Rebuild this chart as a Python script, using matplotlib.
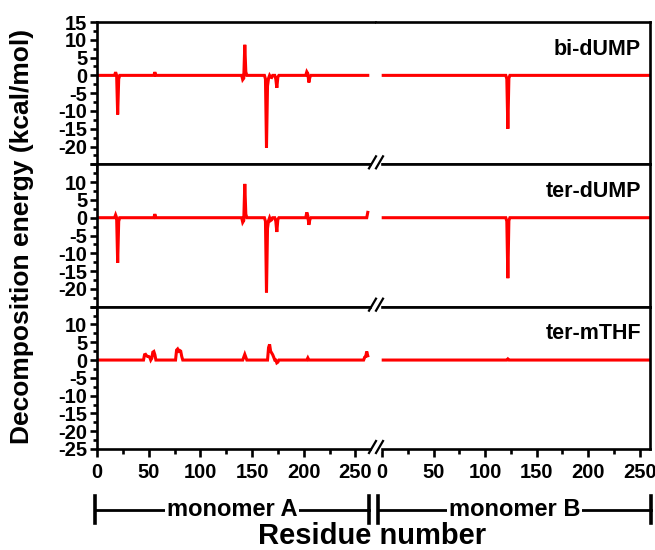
import numpy as np
import matplotlib
matplotlib.use("Agg")
import matplotlib.pyplot as plt
from matplotlib.lines import Line2D
from matplotlib.ticker import MultipleLocator

plt.rcParams['font.family'] = ['Liberation Sans', 'DejaVu Sans']
plt.rcParams['font.weight'] = 'bold'

# residue counts per monomer
n_res_A = 262
n_res_B = 264

# non-zero decomposition energies (residue, kcal/mol), everything else ~0
bi_dump_A_res = [18, 20, 21, 56, 141, 142, 143, 144, 163, 164, 165, 166, 168, 169, 173, 174, 175, 203, 204, 205, 206]
bi_dump_A_val = [0.9, -11.0, -1.0, 0.9, -1.2, -0.8, 8.6, 1.0, -1.0, -20.3, -3.0, -0.8, -0.5, -0.6, -1.0, -3.5, -0.5, 1.0, 0.5, -2.0, -0.5]
bi_dump_B_res = [121, 122, 123]
bi_dump_B_val = [-1.0, -15.0, -0.8]

ter_dump_A_res = [18, 20, 21, 56, 141, 142, 143, 144, 163, 164, 165, 166, 168, 169, 173, 174, 175, 203, 204, 205, 206, 262]
ter_dump_A_val = [0.8, -12.7, -1.0, 1.0, -1.3, -0.8, 9.5, 1.0, -1.0, -21.0, -3.0, -0.8, -0.8, -0.6, -1.0, -4.0, -0.5, 1.5, 0.5, -2.0, -0.5, 1.5]
ter_dump_B_res = [121, 122, 123]
ter_dump_B_val = [-1.0, -17.0, -0.8]

ter_mthf_A_res = [46, 47, 48, 49, 50, 51, 53, 54, 55, 56, 77, 78, 79, 80, 81, 82,
                  142, 143, 144, 166, 167, 168, 169, 170, 171, 174, 175, 204, 259, 260, 261, 262]
ter_mthf_A_val = [1.5, 1.6, 1.2, 1.0, 1.0, 0.8, 0.5, 2.2, 2.4, 1.5, 2.8, 3.1, 2.5, 2.7, 2.5, 1.0,
                  0.8, 1.6, 0.8, 3.5, 4.4, 2.5, 2.0, 1.5, 0.8, -0.8, -0.6, 0.6, 0.8, 1.0, 2.4, 1.2]
ter_mthf_B_res = [122]
ter_mthf_B_val = [0.3]

labels = ['bi-dUMP', 'ter-dUMP', 'ter-mTHF']
series = [
    (bi_dump_A_res, bi_dump_A_val, bi_dump_B_res, bi_dump_B_val),
    (ter_dump_A_res, ter_dump_A_val, ter_dump_B_res, ter_dump_B_val),
    (ter_mthf_A_res, ter_mthf_A_val, ter_mthf_B_res, ter_mthf_B_val),
]
# which y tick labels are shown in each panel
shown_yticks = [
    [15, 10, 5, 0, -5, -10, -15, -20],
    [10, 5, 0, -5, -10, -15, -20],
    [10, 5, 0, -5, -10, -15, -20, -25],
]


def full_series(n, res, val):
    x = np.arange(1, n + 1)
    y = np.zeros(n)
    for r, v in zip(res, val):
        y[r - 1] = v
    return x, y


W, H = 655, 550
fig = plt.figure(figsize=(W / 100, H / 100), dpi=100)

xl0, xl1 = 97, 375   # left block pixels
xr0, xr1 = 376, 650  # right block pixels
ytop, ybot = 22, 449
ph = (ybot - ytop) / 3

lw_spine = 1.9
red = '#ff0000'

for i in range(3):
    top = ytop + i * ph
    y0 = 1 - (top + ph) / H
    axL = fig.add_axes([xl0 / W, y0, (xl1 - xl0) / W, ph / H])
    axR = fig.add_axes([xr0 / W, y0, (xr1 - xr0) / W, ph / H])
    resA, valA, resB, valB = series[i]
    xa, ya = full_series(n_res_A, resA, valA)
    xb, yb = full_series(n_res_B, resB, valB)
    axL.plot(xa, ya, color=red, lw=2.2, solid_joinstyle='miter')
    axR.plot(xb, yb, color=red, lw=2.2, solid_joinstyle='miter')
    axL.set_xlim(0, 269)
    axR.set_xlim(-6, 260)
    for ax in (axL, axR):
        ax.set_ylim(-25, 15)
        ax.xaxis.set_major_locator(MultipleLocator(50))
        ax.xaxis.set_minor_locator(MultipleLocator(25))
        for s in ax.spines.values():
            s.set_linewidth(lw_spine)
        ax.tick_params(axis='x', which='major', direction='out', length=6, width=1.9,
                       labelsize=14.5, pad=4, top=False)
        ax.tick_params(axis='x', which='minor', direction='out', length=3.5, width=1.9, top=False)
        if i < 2:
            ax.tick_params(axis='x', which='both', labelbottom=False)
    axL.spines['right'].set_visible(False)
    axR.spines['left'].set_visible(False)
    axR.set_yticks([])
    axL.set_yticks(np.arange(-25, 16, 5))
    axL.yaxis.set_minor_locator(MultipleLocator(2.5))
    axL.set_yticklabels([str(v) if v in shown_yticks[i] else '' for v in range(-25, 16, 5)])
    axL.tick_params(axis='y', which='major', direction='out', length=5, width=1.9, labelsize=14.5, pad=2)
    axL.tick_params(axis='y', which='minor', direction='out', length=3, width=1.9)
    axR.text(0.967, 0.81, labels[i], transform=axR.transAxes, ha='right', va='center',
             fontsize=15.5, fontweight='bold')

    # axis break marks on bottom spine
    yb_px = top + ph
    fig.add_artist(plt.Rectangle(((372) / W, 1 - (yb_px + 2) / H), 8 / W, 4 / H,
                                 transform=fig.transFigure, color='white', zorder=10))
    for xc in (372.5, 379.5):
        fig.add_artist(Line2D([(xc - 3.5) / W, (xc + 3.5) / W],
                              [1 - (yb_px + 4) / H, 1 - (yb_px - 8) / H],
                              transform=fig.transFigure, color='black', lw=1.6, zorder=11))

# monomer brackets
yb_br = 1 - 510 / H
for (a, b, name) in [(95, 369, 'monomer A'), (378, 651, 'monomer B')]:
    fig.add_artist(Line2D([a / W, b / W], [yb_br, yb_br], transform=fig.transFigure,
                          color='black', lw=2.0))
    for xe in (a, b):
        fig.add_artist(Line2D([xe / W, xe / W], [1 - 496 / H, 1 - 523 / H],
                              transform=fig.transFigure, color='black', lw=2.6))
    fig.text((a + b) / 2 / W, yb_br, name, ha='center', va='center', fontsize=17,
             fontweight='bold', bbox=dict(facecolor='white', edgecolor='none', pad=1.5))

fig.text(372 / W, 1 - 536 / H, 'Residue number', ha='center', va='center',
         fontsize=21, fontweight='bold')
fig.text(22 / W, 1 - 236 / H, 'Decomposition energy (kcal/mol)', ha='center', va='center',
         rotation=90, fontsize=19, fontweight='bold')

fig.savefig('out.png', dpi=100)
